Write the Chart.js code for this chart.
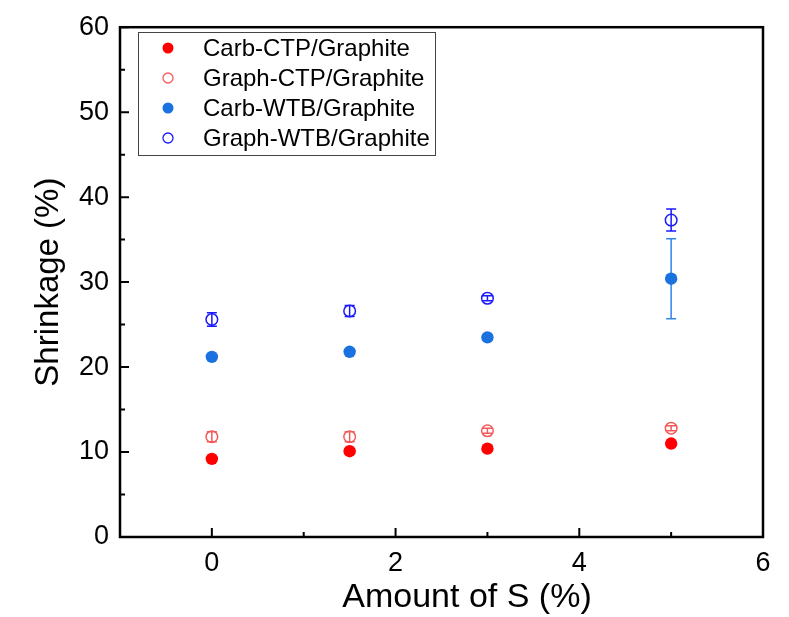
<!DOCTYPE html>
<html>
<head>
<meta charset="utf-8">
<script src="https://cdn.jsdelivr.net/npm/chart.js@4.4.1/dist/chart.umd.min.js"></script>
<style>
  body { margin: 0; background: #fff; }
  #wrap { width: 789px; height: 617px; }
</style>
</head>
<body>
<div id="wrap"><canvas id="myChart"></canvas></div>
<script>
// amount of S (%)
const amounts = [0, 1.5, 3, 5];

const carbCTP = [9.2, 10.1, 10.4, 11.0];
const carbCTPErr = [0.2, 0.2, 0.2, 0.2];
const graphCTP = [11.8, 11.8, 12.5, 12.8];
const graphCTPErr = [0.6, 0.6, 0.3, 0.3];
const carbWTB = [21.2, 21.8, 23.5, 30.4];
const carbWTBErr = [0.3, 0.3, 0.3, 4.7];
const graphWTB = [25.6, 26.6, 28.1, 37.3];
const graphWTBErr = [0.8, 0.65, 0.3, 1.3];

const xTicks = [0, 2, 4, 6];
const xMinor = [1, 3, 5];
const yTicks = [0, 10, 20, 30, 40, 50, 60];
const yMinor = [5, 15, 25, 35, 45, 55];

const FONT = "'Liberation Sans', Arial, sans-serif";

const toPoints = (ys) => ys.map((y, i) => ({ x: amounts[i], y: y }));

// error bars drawn under the markers
const errorBars = {
    id: 'errorBars',
    beforeDatasetsDraw(chart) {
        const ctx = chart.ctx;
        const xs = chart.scales.x, ys = chart.scales.y;
        chart.data.datasets.forEach(ds => {
            ctx.save();
            ctx.strokeStyle = ds.errColor;
            ctx.lineWidth = 1.5;
            ds.data.forEach((p, i) => {
                const e = ds.errors[i];
                const px = xs.getPixelForValue(p.x);
                const top = ys.getPixelForValue(p.y + e);
                const bot = ys.getPixelForValue(p.y - e);
                ctx.beginPath();
                ctx.moveTo(px, top); ctx.lineTo(px, bot);
                ctx.moveTo(px - 5, top); ctx.lineTo(px + 5, top);
                ctx.moveTo(px - 5, bot); ctx.lineTo(px + 5, bot);
                ctx.stroke();
            });
            ctx.restore();
        });
    }
};

// box frame with inward ticks, x title
const frame = {
    id: 'frame',
    afterDraw(chart) {
        const ctx = chart.ctx;
        const a = chart.chartArea;
        const xs = chart.scales.x, ys = chart.scales.y;
        ctx.save();
        ctx.strokeStyle = '#000';
        ctx.lineWidth = 2;
        ctx.beginPath();
        xTicks.forEach(v => { const p = xs.getPixelForValue(v); ctx.moveTo(p, a.bottom); ctx.lineTo(p, a.bottom - 9); });
        xMinor.forEach(v => { const p = xs.getPixelForValue(v); ctx.moveTo(p, a.bottom); ctx.lineTo(p, a.bottom - 5); });
        yTicks.forEach(v => { const p = ys.getPixelForValue(v); ctx.moveTo(a.left, p); ctx.lineTo(a.left + 9, p); });
        yMinor.forEach(v => { const p = ys.getPixelForValue(v); ctx.moveTo(a.left, p); ctx.lineTo(a.left + 5, p); });
        ctx.stroke();
        ctx.lineWidth = 2.5;
        ctx.strokeRect(a.left, a.top, a.right - a.left, a.bottom - a.top);

        // x title sits right of the plot centre in the original
        ctx.fillStyle = '#000';
        ctx.font = '34px ' + FONT;
        ctx.textAlign = 'center';
        ctx.textBaseline = 'middle';
        ctx.fillText('Amount of S (%)', 467, 598);
        ctx.restore();
    }
};

// legend box in upper left corner
const boxLegend = {
    id: 'boxLegend',
    afterDraw(chart) {
        const ctx = chart.ctx;
        ctx.save();
        ctx.fillStyle = '#fff';
        ctx.fillRect(138, 32, 297, 123);
        ctx.strokeStyle = '#444';
        ctx.lineWidth = 1;
        ctx.strokeRect(138.5, 32.5, 297, 123);
        ctx.font = '24px ' + FONT;
        ctx.textBaseline = 'middle';
        chart.data.datasets.forEach((ds, i) => {
            const y = 48 + i * 30;
            ctx.beginPath();
            if (ds.backgroundColor !== 'rgba(0,0,0,0)') {
                ctx.arc(168, y, 5.5, 0, Math.PI * 2);
                ctx.fillStyle = ds.backgroundColor;
                ctx.fill();
            } else {
                ctx.arc(168, y, 5, 0, Math.PI * 2);
                ctx.strokeStyle = ds.borderColor;
                ctx.lineWidth = 1.3;
                ctx.stroke();
            }
            ctx.fillStyle = '#000';
            ctx.fillText(ds.label, 203, y + 1);
        });
        ctx.restore();
    }
};

new Chart(document.getElementById('myChart'), {
    type: 'scatter',
    data: {
        datasets: [
            { label: 'Carb-CTP/Graphite', data: toPoints(carbCTP), errors: carbCTPErr, errColor: '#ff0000',
              backgroundColor: '#ff0000', borderColor: '#ff0000', pointRadius: 6.2, borderWidth: 0 },
            { label: 'Graph-CTP/Graphite', data: toPoints(graphCTP), errors: graphCTPErr, errColor: '#f55a5a',
              backgroundColor: 'rgba(0,0,0,0)', borderColor: '#f55a5a', pointRadius: 5.8, borderWidth: 1.5 },
            { label: 'Carb-WTB/Graphite', data: toPoints(carbWTB), errors: carbWTBErr, errColor: '#2f86ea',
              backgroundColor: '#1a72e0', borderColor: '#1a72e0', pointRadius: 6.2, borderWidth: 0 },
            { label: 'Graph-WTB/Graphite', data: toPoints(graphWTB), errors: graphWTBErr, errColor: '#1a1aff',
              backgroundColor: 'rgba(0,0,0,0)', borderColor: '#1a1aff', pointRadius: 5.8, borderWidth: 1.5 }
        ]
    },
    options: {
        responsive: true,
        maintainAspectRatio: false,
        animation: false,
        layout: { padding: { left: 0, right: 26, top: 20, bottom: 0 } },
        plugins: { legend: { display: false }, tooltip: { enabled: false } },
        scales: {
            x: {
                type: 'linear', min: -1, max: 6,
                afterBuildTicks: (s) => { s.ticks = xTicks.map(v => ({ value: v })); },
                afterFit: (s) => { s.height = 80; },
                grid: { display: false, drawTicks: false },
                border: { display: false },
                ticks: { color: '#000', padding: 10, font: { family: FONT, size: 27 } },
                title: { display: false }
            },
            y: {
                min: 0, max: 60,
                afterBuildTicks: (s) => { s.ticks = yTicks.map(v => ({ value: v })); },
                afterFit: (s) => { s.width = 120; },
                grid: { display: false, drawTicks: false },
                border: { display: false },
                ticks: { color: '#000', padding: 11, font: { family: FONT, size: 27 } },
                title: { display: true, text: 'Shrinkage (%)', color: '#000', padding: { top: 29, bottom: 0 },
                         font: { family: FONT, size: 33 } }
            }
        }
    },
    plugins: [errorBars, frame, boxLegend]
});
</script>
</body>
</html>
